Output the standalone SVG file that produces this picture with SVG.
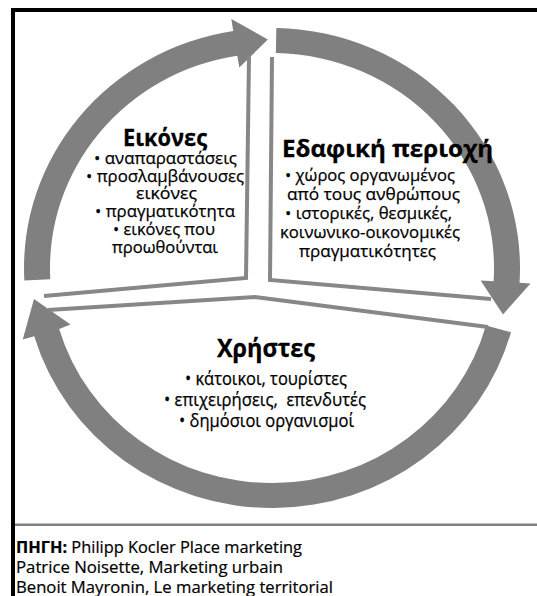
<svg xmlns="http://www.w3.org/2000/svg" width="537" height="596" viewBox="0 0 537 596">
<style>
  .ring { fill: #808080; }
  .seg { fill: none; stroke: #878787; stroke-width: 4; stroke-linejoin: miter; }
  .t { font-family: "Open Sans", "Noto Sans", "Liberation Sans", sans-serif; font-size: 17px; fill: #000; stroke: #000; stroke-width: 0.25; }
  .b { font-size: 17.5px; }
  .h { font-weight: bold; font-size: 23px; stroke-width: 0.3; }
  .src { font-family: "Open Sans", "Noto Sans", "Liberation Sans", sans-serif; font-size: 15.5px; fill: #000; stroke: #000; stroke-width: 0.2; }
</style>
<rect x="0" y="0" width="537" height="596" fill="#ffffff"/>

<g id="frame">
  <rect x="11" y="8" width="526" height="4" fill="#000"/>
  <rect x="11" y="8" width="4" height="588" fill="#000"/>
  <rect x="15" y="523.5" width="522" height="2.5" fill="#808080"/>
</g>

<g id="connectors">
  <path class="ring" d="M 24.34 280.56 A 248 240 0 0 1 233.20 30.95 L 231.33 19.10 L 267.90 39.5 L 239.31 67.50 L 237.27 55.65 A 222 215 0 0 0 50.30 279.25 Z"/>
  <path class="ring" d="M 276.33 28.04 A 248 240 0 0 1 519.54 282.65 L 530.5 283.38 L 503 314.5 L 480.61 280.39 L 493.59 281.13 A 222 215 0 0 0 275.87 53.03 Z"/>
  <path class="ring" d="M 510.98 332.14 A 248 240 0 0 1 34.21 336.16 L 22.71 339.57 L 34 299 L 70.5 324.5 L 59.14 329.06 A 222 215 0 0 0 485.93 325.46 Z"/>
</g>

<g id="node-images">
  <polyline class="seg" points="249,56 246,278 44,296"/>
  <text class="t h" x="123" y="146" textLength="84" lengthAdjust="spacingAndGlyphs">Εικόνες</text>
  <text class="t" x="94" y="164" textLength="143" lengthAdjust="spacingAndGlyphs">• αναπαραστάσεις</text>
  <text class="t" x="86" y="181.5" textLength="158" lengthAdjust="spacingAndGlyphs">• προσλαμβάνουσες</text>
  <text class="t" x="136" y="199" textLength="61" lengthAdjust="spacingAndGlyphs">εικόνες</text>
  <text class="t" x="95" y="217" textLength="140" lengthAdjust="spacingAndGlyphs">• πραγματικότητα</text>
  <text class="t" x="113" y="235" textLength="102" lengthAdjust="spacingAndGlyphs">• εικόνες που</text>
  <text class="t" x="112" y="253" textLength="106" lengthAdjust="spacingAndGlyphs">προωθούνται</text>
</g>

<g id="node-territory">
  <polyline class="seg" points="272,57 270,280 491,299"/>
  <text class="t h" x="282" y="157" textLength="211" lengthAdjust="spacingAndGlyphs">Εδαφική περιοχή</text>
  <text class="t" x="285" y="181" textLength="170" lengthAdjust="spacingAndGlyphs">• χώρος οργανωμένος</text>
  <text class="t" x="287" y="199.5" textLength="173" lengthAdjust="spacingAndGlyphs">από τους ανθρώπους</text>
  <text class="t" x="285" y="219" textLength="167" lengthAdjust="spacingAndGlyphs">• ιστορικές, θεσμικές,</text>
  <text class="t" x="280" y="238" textLength="180" lengthAdjust="spacingAndGlyphs">κοινωνικο-οικονομικές</text>
  <text class="t" x="299" y="256.5" textLength="137" lengthAdjust="spacingAndGlyphs">πραγματικότητες</text>
</g>

<g id="node-users">
  <polyline class="seg" points="48,310 255,297 488,327"/>
  <text class="t h" style="font-size:25px" x="217" y="357" textLength="98" lengthAdjust="spacingAndGlyphs">Χρήστες</text>
  <text class="t b" x="185" y="385" textLength="162" lengthAdjust="spacingAndGlyphs">• κάτοικοι, τουρίστες</text>
  <text class="t b" x="164" y="406" textLength="202" lengthAdjust="spacingAndGlyphs" xml:space="preserve">• επιχειρήσεις,  επενδυτές</text>
  <text class="t b" x="179" y="426.5" textLength="175" lengthAdjust="spacingAndGlyphs">• δημόσιοι οργανισμοί</text>
</g>

<g id="source">
  <text class="src" x="16" y="553" textLength="286" lengthAdjust="spacingAndGlyphs"><tspan font-weight="bold">ΠΗΓΗ:</tspan> Philipp Kocler Place marketing</text>
  <text class="src" x="16" y="573" textLength="267" lengthAdjust="spacingAndGlyphs">Patrice Noisette, Marketing urbain</text>
  <text class="src" x="16" y="593" textLength="317" lengthAdjust="spacingAndGlyphs">Benoit Mayronin, Le marketing territorial</text>
</g>
</svg>
